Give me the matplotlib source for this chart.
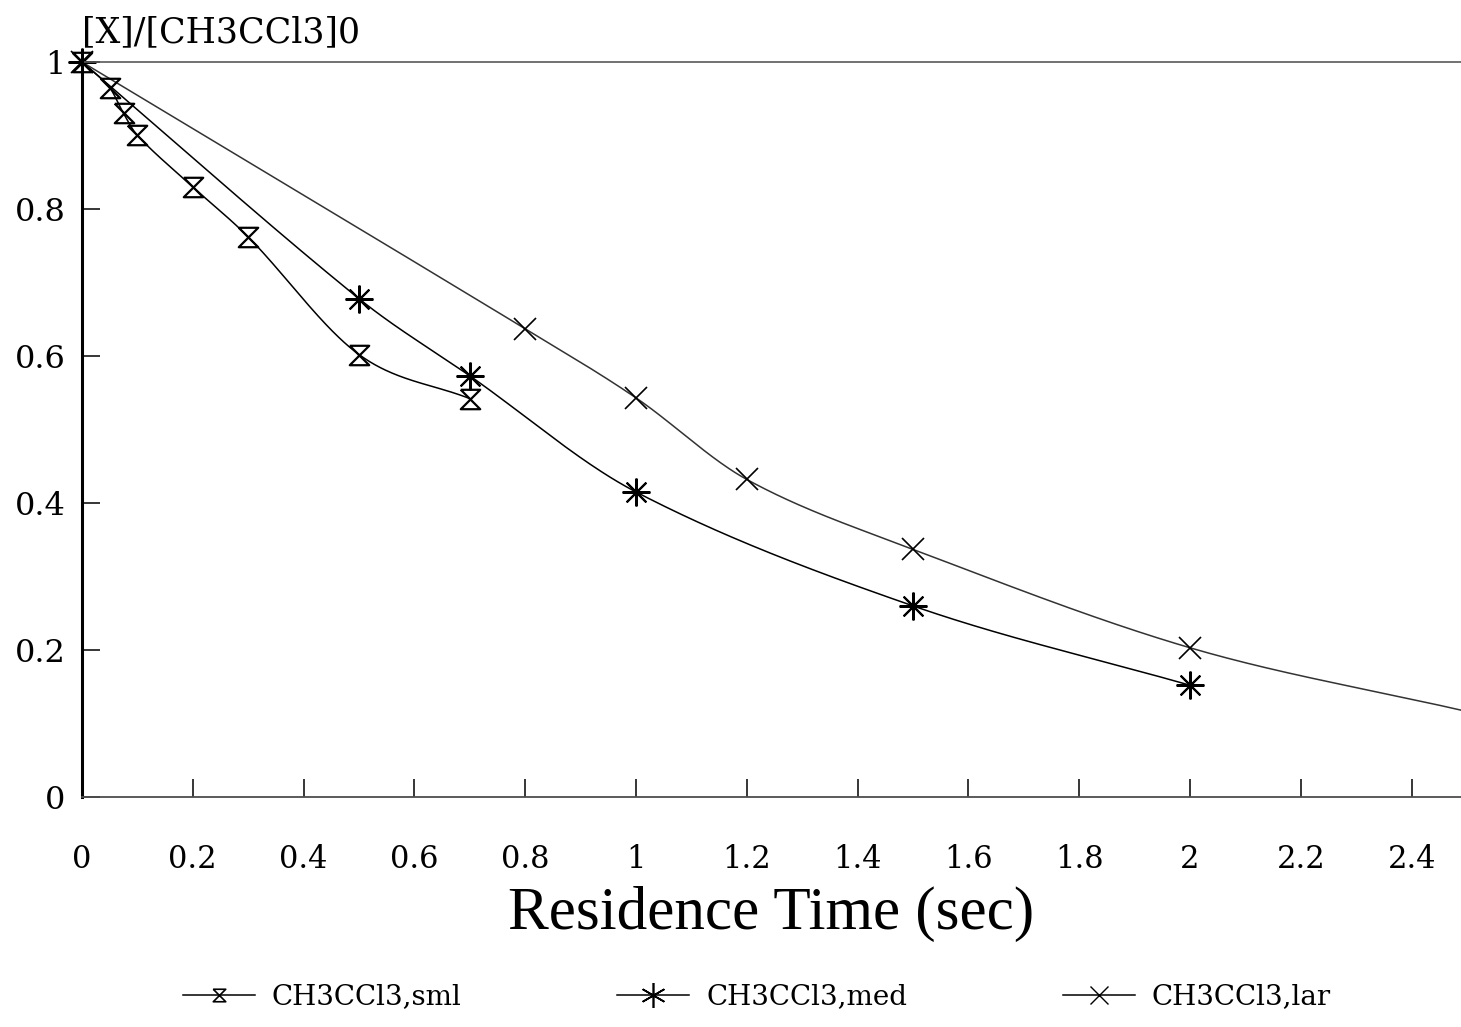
import numpy as np
import matplotlib
matplotlib.use("Agg")
import matplotlib.pyplot as plt
from matplotlib.path import Path
from matplotlib.lines import Line2D

# ---- data ----
sml_t = [0.0, 0.05, 0.075, 0.1, 0.2, 0.3, 0.5, 0.7]
sml_y = [1.0, 0.965, 0.93, 0.90, 0.83, 0.762, 0.602, 0.542]
med_t = [0.0, 0.5, 0.7, 1.0, 1.5, 2.0]
med_y = [1.0, 0.678, 0.573, 0.415, 0.26, 0.152]
lar_t = [0.0, 0.8, 1.0, 1.2, 1.5, 2.0]
lar_y = [1.0, 0.637, 0.543, 0.432, 0.337, 0.203]
lar_end_t = [2.49]          # fitted curve continues past last point
lar_end_y = [0.118]
xticks = [0, 0.2, 0.4, 0.6, 0.8, 1, 1.2, 1.4, 1.6, 1.8, 2, 2.2, 2.4]
xticklabels = ["0", "0.2", "0.4", "0.6", "0.8", "1", "1.2", "1.4", "1.6", "1.8", "2", "2.2", "2.4"]
yticks = [0, 0.2, 0.4, 0.6, 0.8, 1]
yticklabels = ["0", "0.2", "0.4", "0.6", "0.8", "1"]
labels = ["CH3CCl3,sml", "CH3CCl3,med", "CH3CCl3,lar"]


def smooth(x, y, xn):
    """Cardinal (Catmull-Rom like) cubic Hermite curve through the points."""
    x = np.asarray(x, float); y = np.asarray(y, float)
    n = len(x)
    d = np.diff(y) / np.diff(x)
    m = np.zeros(n)
    m[0] = d[0]; m[-1] = d[-1]
    for k in range(1, n - 1):
        m[k] = (y[k + 1] - y[k - 1]) / (x[k + 1] - x[k - 1])
    h = np.diff(x)
    idx = np.clip(np.searchsorted(x, xn) - 1, 0, n - 2)
    t = (xn - x[idx]) / h[idx]
    h00 = 2 * t**3 - 3 * t**2 + 1; h10 = t**3 - 2 * t**2 + t
    h01 = -2 * t**3 + 3 * t**2; h11 = t**3 - t**2
    return h00 * y[idx] + h10 * h[idx] * m[idx] + h01 * y[idx + 1] + h11 * h[idx] * m[idx + 1]


hourglass = Path([(-1, 1), (1, 1), (-1, -1), (1, -1), (-1, 1)],
                 [Path.MOVETO, Path.LINETO, Path.LINETO, Path.LINETO, Path.LINETO])

SERIF = "DejaVu Serif"
fig = plt.figure(figsize=(14.61, 10.27), dpi=100)
W, H = 1461, 1027
ax = fig.add_axes([82 / W, 1 - 797 / H, 1 - 82 / W, (797 - 62) / H])
ax.set_xlim(0, 2.489)
ax.set_ylim(0, 1)

xs = np.linspace(0, sml_t[-1], 300)
ax.plot(xs, smooth(sml_t, sml_y, xs), color="black", lw=1.1, clip_on=False)
xs = np.linspace(0, med_t[-1], 400)
ax.plot(xs, smooth(med_t, med_y, xs), color="black", lw=1.1, clip_on=False)
lt = lar_t + lar_end_t
ly = lar_y + lar_end_y
xs = np.linspace(0, lt[-1], 500)
ax.plot(xs, smooth(lt, ly, xs), color="0.2", lw=1.1, clip_on=False)

ax.plot(sml_t, sml_y, ls="none", marker=hourglass, ms=14, mfc="none", mec="black", mew=1.6, clip_on=False)
ax.plot(med_t, med_y, ls="none", marker=(8, 2, 0), ms=20, mec="black", mew=1.5, clip_on=False)
ax.plot(lar_t, lar_y, ls="none", marker="x", ms=16, mec="black", mew=1.2, clip_on=False)

ax.axhline(1.0, color="0.35", lw=1.2, clip_on=False)

for s in ["top", "right"]:
    ax.spines[s].set_visible(False)
ax.spines["left"].set_linewidth(2.2)
ax.spines["bottom"].set_linewidth(1.3)
ax.spines["bottom"].set_color("0.3")

ax.set_xticks(xticks)
ax.set_xticklabels(xticklabels, fontfamily=SERIF, fontsize=22)
ax.set_yticks(yticks)
ax.set_yticklabels(yticklabels, fontfamily=SERIF, fontsize=23)
ax.tick_params(axis="x", direction="in", length=13, width=1.1, pad=34)
ax.tick_params(axis="y", direction="in", length=13, width=1.1, pad=12)

ax.set_xlabel("Residence Time (sec)", fontfamily="Liberation Serif", fontsize=44, labelpad=8)
fig.text(82 / W, 1 - 32 / H, "[X]/[CH3CCl3]0", fontfamily=SERIF, fontsize=25,
         ha="left", va="center")

handles = [
    Line2D([], [], color="black", lw=1.1, marker=hourglass, ms=9, mfc="none", mec="black", mew=1.2),
    Line2D([], [], color="black", lw=1.1, marker=(6, 2, 0), ms=18, mec="black", mew=1.2),
    Line2D([], [], color="black", lw=1.1, marker="x", ms=13, mec="black", mew=1.0),
]
leg = fig.legend(handles, labels, loc="center", bbox_to_anchor=(0.518, 1 - 997 / H), ncol=3,
                 frameon=False, prop={"family": SERIF, "size": 20},
                 handlelength=2.6, handletextpad=0.6, columnspacing=5.6)

fig.savefig("out.png", dpi=100, facecolor="white")
